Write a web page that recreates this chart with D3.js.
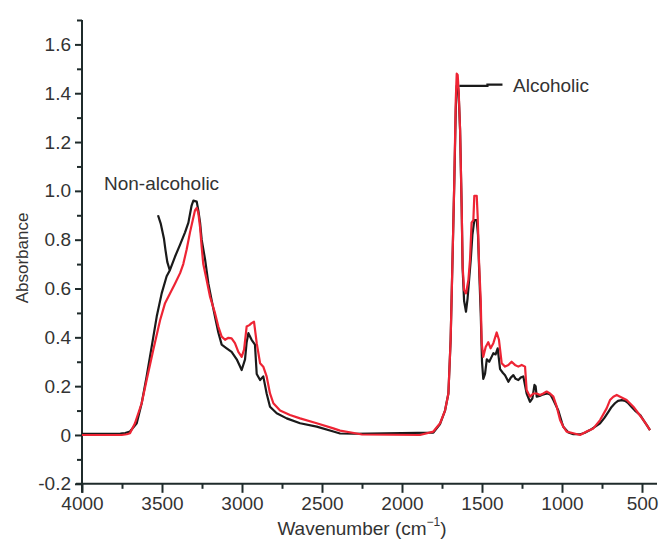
<!DOCTYPE html>
<html>
<head>
<meta charset="utf-8">
<script src="https://cdn.jsdelivr.net/npm/d3@7"></script>
<style>
  body { margin: 0; background: #fff; }
  svg { display: block; }
  text { font-family: "Liberation Sans", Arial, Helvetica, sans-serif; fill: #333; }
</style>
</head>
<body>
<script>
// wavenumber (cm-1), absorbance
var nonAlcoholic = [
  [4000, 0.005], [3800, 0.005], [3760, 0.006], [3730, 0.008], [3700, 0.014], [3658, 0.048],
  [3627, 0.13], [3596, 0.24], [3565, 0.36], [3533, 0.485], [3502, 0.58], [3471, 0.65],
  [3450, 0.676], [3419, 0.73], [3387, 0.78], [3356, 0.83], [3335, 0.87], [3315, 0.94],
  [3304, 0.96], [3283, 0.956], [3273, 0.92], [3262, 0.87], [3252, 0.80], [3231, 0.72],
  [3210, 0.62], [3190, 0.553], [3169, 0.485], [3148, 0.42], [3127, 0.37], [3096, 0.355],
  [3065, 0.34], [3033, 0.31], [3002, 0.266], [2981, 0.31], [2971, 0.38], [2960, 0.417],
  [2940, 0.39], [2919, 0.37], [2908, 0.25], [2887, 0.225], [2867, 0.24], [2846, 0.17],
  [2825, 0.116], [2783, 0.089], [2721, 0.068], [2637, 0.048], [2533, 0.034], [2429, 0.014],
  [2387, 0.006], [2300, 0.005], [1804, 0.01], [1762, 0.045], [1731, 0.10], [1710, 0.17],
  [1696, 0.39], [1685, 0.70], [1673, 1.04], [1664, 1.33], [1658, 1.43], [1652, 1.44],
  [1646, 1.40], [1637, 1.25], [1627, 0.93], [1621, 0.68], [1612, 0.55], [1600, 0.505],
  [1590, 0.56], [1580, 0.64], [1570, 0.72], [1560, 0.82], [1548, 0.88], [1533, 0.88],
  [1525, 0.82], [1519, 0.70], [1508, 0.50], [1500, 0.30], [1492, 0.23], [1481, 0.25],
  [1470, 0.31], [1455, 0.30], [1440, 0.32], [1429, 0.335], [1415, 0.33], [1402, 0.355],
  [1387, 0.27], [1370, 0.255], [1356, 0.245], [1335, 0.218], [1320, 0.235], [1304, 0.245],
  [1290, 0.23], [1273, 0.225], [1258, 0.235], [1242, 0.24], [1221, 0.17], [1200, 0.136],
  [1185, 0.15], [1172, 0.205], [1165, 0.2], [1158, 0.157], [1140, 0.16], [1127, 0.164],
  [1105, 0.168], [1086, 0.17], [1070, 0.163], [1054, 0.143], [1023, 0.1], [1000, 0.05],
  [992, 0.034], [960, 0.01], [929, 0.003], [887, 0.003], [860, 0.008], [825, 0.02],
  [790, 0.035], [762, 0.048], [735, 0.07], [710, 0.095], [690, 0.115], [669, 0.13],
  [650, 0.14], [627, 0.143], [605, 0.14], [586, 0.13], [565, 0.115], [544, 0.1],
  [512, 0.082], [490, 0.06], [470, 0.04], [450, 0.02]
];

var alcoholic = [
  [4000, 0], [3752, 0], [3720, 0.003], [3700, 0.007], [3669, 0.048], [3627, 0.13],
  [3596, 0.225], [3554, 0.35], [3512, 0.47], [3481, 0.54], [3450, 0.58], [3419, 0.62],
  [3387, 0.663], [3367, 0.70], [3346, 0.76], [3325, 0.83], [3308, 0.88], [3294, 0.92],
  [3283, 0.93], [3273, 0.91], [3262, 0.85], [3252, 0.77], [3242, 0.70], [3221, 0.635],
  [3200, 0.567], [3169, 0.50], [3148, 0.444], [3127, 0.403], [3106, 0.39], [3085, 0.398],
  [3065, 0.396], [3044, 0.376], [3023, 0.34], [3002, 0.32], [2987, 0.35], [2971, 0.444],
  [2954, 0.45], [2940, 0.458], [2925, 0.464], [2908, 0.376], [2887, 0.294], [2867, 0.28],
  [2846, 0.24], [2825, 0.17], [2804, 0.13], [2762, 0.10], [2700, 0.082], [2637, 0.068],
  [2533, 0.048], [2429, 0.027], [2387, 0.018], [2300, 0.008], [2250, 0.002], [1888, 0],
  [1804, 0.014], [1762, 0.048], [1731, 0.10], [1710, 0.17], [1696, 0.39], [1685, 0.70],
  [1673, 1.045], [1664, 1.37], [1658, 1.48], [1652, 1.475], [1646, 1.41], [1637, 1.25],
  [1627, 0.935], [1621, 0.69], [1612, 0.594], [1600, 0.58], [1585, 0.635], [1575, 0.717],
  [1565, 0.87], [1554, 0.88], [1548, 0.98], [1533, 0.98], [1527, 0.895], [1519, 0.717],
  [1508, 0.553], [1502, 0.376], [1492, 0.32], [1477, 0.36], [1461, 0.38], [1446, 0.355],
  [1429, 0.376], [1408, 0.42], [1394, 0.39], [1377, 0.294], [1356, 0.28], [1335, 0.287],
  [1315, 0.30], [1294, 0.287], [1273, 0.28], [1252, 0.287], [1231, 0.28], [1221, 0.184],
  [1200, 0.157], [1179, 0.17], [1158, 0.17], [1137, 0.164], [1117, 0.17], [1096, 0.178],
  [1075, 0.17], [1054, 0.157], [1033, 0.116], [1012, 0.061], [992, 0.034], [971, 0.014],
  [929, 0.007], [887, 0], [846, 0.014], [804, 0.027], [762, 0.061], [721, 0.109],
  [700, 0.143], [679, 0.157], [658, 0.164], [637, 0.157], [596, 0.143], [554, 0.116],
  [523, 0.089], [490, 0.06], [470, 0.04], [450, 0.02]
];

// leader lines of the two labels, in data units
var nonAlcoholicLeader = [[3525, 0.90], [3508, 0.866], [3488, 0.805], [3478, 0.756], [3467, 0.709], [3452, 0.676]];
var alcoholicLeader = [[1641, 1.43], [1466, 1.43], [1466, 1.435], [1372, 1.435]];

var xMajor = [4000, 3500, 3000, 2500, 2000, 1500, 1000, 500];
var xMinor = [3750, 3250, 2750, 2250, 1750, 1250, 750];
var yMajor = [-0.2, 0, 0.2, 0.4, 0.6, 0.8, 1.0, 1.2, 1.4, 1.6];
var yMinor = [-0.1, 0.1, 0.3, 0.5, 0.7, 0.9, 1.1, 1.3, 1.5, 1.7];

var W = 659, H = 543;
var svg = d3.select("body").append("svg").attr("width", W).attr("height", H);

// 4000 -> 82px, 500 -> 642px
var x = d3.scaleLinear().domain([4000, 500]).range([82, 642]);
// 0 -> 435px, 1.6 -> 44.4px
var y = d3.scaleLinear().domain([-0.2, 1.6]).range([483.8, 44.4]);

var axisColor = "#1f2b2b";

// x axis line
svg.append("line")
  .attr("x1", 76).attr("x2", 657)
  .attr("y1", y(-0.2)).attr("y2", y(-0.2))
  .attr("stroke", axisColor).attr("stroke-width", 2);

// y axis line
svg.append("line")
  .attr("x1", x(4000)).attr("x2", x(4000))
  .attr("y1", y(1.7)).attr("y2", y(-0.2) + 9)
  .attr("stroke", axisColor).attr("stroke-width", 2);

var gx = svg.append("g").attr("transform", "translate(0," + y(-0.2) + ")");
gx.call(d3.axisBottom(x).tickValues(xMajor).tickSize(9).tickPadding(4).tickFormat(d3.format("d")));
gx.append("g").call(d3.axisBottom(x).tickValues(xMinor).tickSize(5).tickFormat(""));

var gy = svg.append("g").attr("transform", "translate(" + x(4000) + ",0)");
gy.call(d3.axisLeft(y).tickValues(yMajor).tickSize(7).tickPadding(4)
  .tickFormat(function (d) { return d === 0 ? "0" : d.toFixed(1); }));
gy.append("g").call(d3.axisLeft(y).tickValues(yMinor).tickSize(5).tickFormat(""));

svg.selectAll(".domain").remove();
svg.selectAll(".tick line").attr("stroke", axisColor).attr("stroke-width", 2);
svg.selectAll(".tick text").attr("font-size", 19).attr("fill", "#333")
  .attr("font-family", "'Liberation Sans', Arial, Helvetica, sans-serif");

var line = d3.line()
  .x(function (d) { return x(d[0]); })
  .y(function (d) { return y(d[1]); });

svg.append("path").datum(nonAlcoholic)
  .attr("d", line).attr("fill", "none")
  .attr("stroke", "#1a1a1a").attr("stroke-width", 2.2).attr("stroke-linejoin", "round");

svg.append("path").datum(alcoholic)
  .attr("d", line).attr("fill", "none")
  .attr("stroke", "#ee2434").attr("stroke-width", 2.2).attr("stroke-linejoin", "round");

svg.append("path").datum(nonAlcoholicLeader)
  .attr("d", line).attr("fill", "none")
  .attr("stroke", "#1a1a1a").attr("stroke-width", 2.2);

svg.append("path").datum(alcoholicLeader)
  .attr("d", line).attr("fill", "none")
  .attr("stroke", "#1a1a1a").attr("stroke-width", 2.2);

// labels
svg.append("text").attr("x", 104).attr("y", 190)
  .attr("font-size", 19).text("Non-alcoholic");
svg.append("text").attr("x", 513).attr("y", 92)
  .attr("font-size", 19).text("Alcoholic");

// axis titles
svg.append("text")
  .attr("transform", "translate(28,258) rotate(-90)")
  .attr("text-anchor", "middle").attr("font-size", 17).text("Absorbance");

var xt = svg.append("text").attr("x", 362).attr("y", 535)
  .attr("text-anchor", "middle").attr("font-size", 19);
xt.append("tspan").text("Wavenumber (cm");
xt.append("tspan").attr("font-size", 12).attr("dy", -9).text("\u22121");
xt.append("tspan").attr("dy", 9).text(")");
</script>
</body>
</html>
